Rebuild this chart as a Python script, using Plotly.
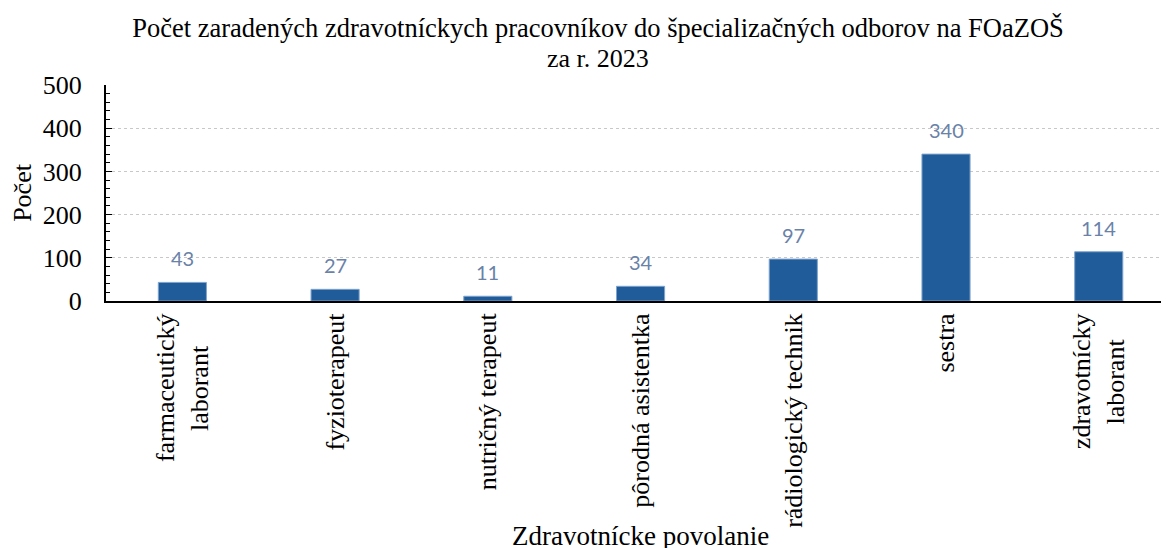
import plotly.graph_objects as go

NB = "\u00a0"
categories = ["farmaceutický<br>laborant" + NB * 5, "fyzioterapeut", "nutričný terapeut",
              "pôrodná asistentka", "rádiologický technik", "sestra",
              "zdravotnícky<br>laborant" + NB * 4]
values = [43, 27, 11, 34, 97, 340, 114]
y_ticks = [0, 100, 200, 300, 400, 500]
title_line1 = "Počet zaradených zdravotníckych pracovníkov do špecializačných odborov na FOaZOŠ"
title_line2 = "za r. 2023"

SERIF = "Liberation Serif, Times New Roman, serif"

# the page body has an 8px margin; work in figure coords = page coords - 8
OFF = 8
W, H = 1169 - OFF, 548 - OFF
PL, PT, PB = 106 - OFF, 85 - OFF, 301 - OFF
PH = PB - PT
PW = W - PL

def px_x(page_x):
    return (page_x - OFF - PL) / PW

def px_y(page_y):
    return (PB - (page_y - OFF)) / PH

fig = go.Figure()
fig.add_trace(go.Bar(
    x=list(range(len(categories))), y=values, width=0.315,
    marker=dict(color="#1F5C99", line=dict(color="#7FA3CC", width=1)),
    hoverinfo="skip"))

for i, v in enumerate(values):
    fig.add_annotation(x=i, y=v, text=str(v), showarrow=False, yshift=24,
                       font=dict(family="Lato, Carlito, sans-serif", size=20, color="#6A82A8"))

fig.add_annotation(x=px_x(598), y=px_y(58), xref="paper", yref="paper",
                   text=title_line2, showarrow=False, xanchor="center", yanchor="middle",
                   font=dict(family=SERIF, size=26, color="black"))

fig.add_annotation(x=px_x(640), y=px_y(519), xref="paper", yref="paper",
                   text="Zdravotnícke povolanie", showarrow=False,
                   xanchor="center", yanchor="top",
                   font=dict(family=SERIF, size=27, color="black"))

fig.update_layout(
    width=W, height=H,
    margin=dict(l=PL, r=0, t=PT, b=H - PB, autoexpand=False),
    paper_bgcolor="white", plot_bgcolor="white",
    showlegend=False,
    title=dict(text=title_line1,
               x=(598 - OFF) / W, xanchor="center",
               y=1 - (28 - OFF) / H, yanchor="middle",
               font=dict(family=SERIF, size=26.5, color="black")),
    font=dict(family=SERIF, color="black"),
)

fig.update_xaxes(
    range=[-0.5, 6.46], tickmode="array", tickvals=list(range(len(categories))),
    ticktext=categories, tickangle=-90, tickfont=dict(size=26, color="black"),
    showline=True, linecolor="black", linewidth=2, mirror=False,
    showgrid=False, ticks="", zeroline=False, automargin=False,
)
fig.update_yaxes(
    range=[0, 500], tickmode="array", tickvals=y_ticks,
    tickfont=dict(size=26, color="black"), ticklabelstandoff=17,
    title=dict(text="Počet", font=dict(size=26, color="black"), standoff=5),
    showline=True, linecolor="black", linewidth=2, mirror=True,
    ticks="inside", ticklen=6, tickcolor="black",
    minor=dict(dtick=20, ticks="inside", ticklen=4, tickcolor="black", showgrid=False),
    showgrid=True, gridcolor="#C8C8C8", griddash="dot", gridwidth=1,
    zeroline=False, automargin=False,
)

fig.write_html("out.html")
